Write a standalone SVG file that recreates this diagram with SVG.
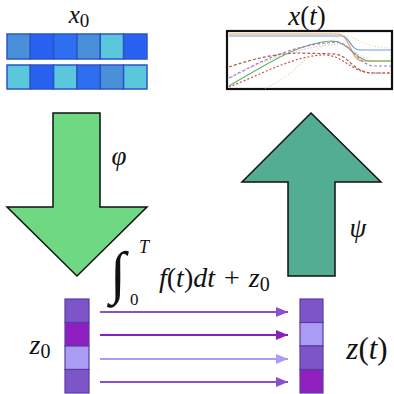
<svg xmlns="http://www.w3.org/2000/svg" width="394" height="394" viewBox="0 0 394 394">
<defs>
<style>
.m{font-style:italic;fill:#111}
.r{font-style:normal;fill:#111}
.xc{stroke:#2a55c8;stroke-width:1.5}
.zc{stroke:#5b3d9e;stroke-width:1.2}
.big{stroke:#111;stroke-width:1.5;stroke-linejoin:miter}
.ar{stroke-width:2;fill:none}
.cv{fill:none;stroke-width:1.2}
</style>
<marker id="h1" viewBox="0 0 12 10" refX="12" refY="5" markerWidth="12" markerHeight="10" markerUnits="userSpaceOnUse" orient="auto"><path d="M0,0 L12,5 L0,10 Z" fill="#8a4fd0"/></marker>
<marker id="h2" viewBox="0 0 12 10" refX="12" refY="5" markerWidth="12" markerHeight="10" markerUnits="userSpaceOnUse" orient="auto"><path d="M0,0 L12,5 L0,10 Z" fill="#8a1ec0"/></marker>
<marker id="h3" viewBox="0 0 12 10" refX="12" refY="5" markerWidth="12" markerHeight="10" markerUnits="userSpaceOnUse" orient="auto"><path d="M0,0 L12,5 L0,10 Z" fill="#a99cf5"/></marker>
</defs>
<rect width="394" height="394" fill="#fff"/>

<g id="x0" font-family="Liberation Serif, Times New Roman, serif">
<text class="m" x="79" y="23" font-size="25" text-anchor="middle">x<tspan class="r" font-size="19" dy="4">0</tspan></text>
<rect class="xc" x="7" y="34" width="23.3" height="25" fill="#4a90d9"/>
<rect class="xc" x="30.3" y="34" width="23.3" height="25" fill="#2962f0"/>
<rect class="xc" x="53.6" y="34" width="23.3" height="25" fill="#2d6ff0"/>
<rect class="xc" x="77" y="34" width="23.3" height="25" fill="#4a90d9"/>
<rect class="xc" x="100.3" y="34" width="23.3" height="25" fill="#5bc7dc"/>
<rect class="xc" x="123.6" y="34" width="23.4" height="25" fill="#2962f0"/>
<rect class="xc" x="7" y="65" width="23.3" height="24" fill="#5bc7dc"/>
<rect class="xc" x="30.3" y="65" width="23.3" height="24" fill="#2962f0"/>
<rect class="xc" x="53.6" y="65" width="23.3" height="24" fill="#5bc7dc"/>
<rect class="xc" x="77" y="65" width="23.3" height="24" fill="#2d6ff0"/>
<rect class="xc" x="100.3" y="65" width="23.3" height="24" fill="#4a90d9"/>
<rect class="xc" x="123.6" y="65" width="23.4" height="24" fill="#5bc7dc"/>
</g>

<g id="xt" font-family="Liberation Serif, Times New Roman, serif">
<text class="m" x="307" y="25" font-size="27" text-anchor="middle">x<tspan class="r">(</tspan>t<tspan class="r">)</tspan></text>
<rect x="227" y="31" width="165" height="58" fill="#fff" stroke="#111" stroke-width="2.2"/>
<path class="cv" stroke="#f0a050" d="M229,34 L338,34 C350,34 350,60 362,61 L391,61"/>
<path class="cv" stroke="#6a9fd0" d="M229,36 L342,36 C350,36 350,50 360,50 L391,50"/>
<path class="cv" stroke="#5cb85c" d="M229,86 C265,65 300,42 332,41 C348,41 355,60 370,61 L391,61"/>
<path class="cv" stroke="#9a7ad0" stroke-dasharray="3,2" d="M229,78 C260,62 290,45 336,42 C350,42 356,62 372,66 L391,66"/>
<path class="cv" stroke="#a05a4a" stroke-dasharray="3,2" d="M229,67 C255,58 280,53 300,53 L335,54 C350,56 352,72 372,73 L391,73"/>
<path class="cv" stroke="#d05050" stroke-dasharray="2,2" d="M229,87 C260,75 295,55 325,55 C345,56 350,72 372,73 L391,73"/>
<path class="cv" stroke="#e0a0c0" stroke-dasharray="1,2" d="M232,77 C260,62 300,46 340,44 C352,45 356,58 370,58"/>
<path class="cv" stroke="#f0d0a0" stroke-dasharray="1,2" d="M265,88 C290,80 315,45 340,36 C355,33 360,48 391,48"/>
</g>

<g id="phi" font-family="Liberation Serif, Times New Roman, serif">
<polygon class="big" fill="#6ed882" points="53,113 100,113 100,207 147,207 77,276 7,207 53,207"/>
<text class="m" x="119" y="165" font-size="27" text-anchor="middle">φ</text>
</g>

<g id="psi" font-family="Liberation Serif, Times New Roman, serif">
<polygon class="big" fill="#52ad93" points="311,113 381,182 335,182 335,276 288,276 288,182 242,182"/>
<text class="m" x="358" y="237" font-size="27" text-anchor="middle">ψ</text>
</g>

<g id="integral" font-family="Liberation Serif, Times New Roman, serif">
<text class="r" x="110" y="292" font-size="58">∫</text>
<text class="m" x="139" y="253" font-size="18">T</text>
<text class="r" x="130" y="305" font-size="17">0</text>
<text class="m" x="159" y="287" font-size="28">f<tspan class="r">(</tspan>t<tspan class="r">)</tspan>dt <tspan class="r" dx="2">+</tspan> <tspan dx="2">z</tspan><tspan class="r" font-size="20" dy="4">0</tspan></text>
</g>

<g id="z0" font-family="Liberation Serif, Times New Roman, serif">
<text class="m" x="40" y="354" font-size="28" text-anchor="middle">z<tspan class="r" font-size="20" dy="4">0</tspan></text>
<rect class="zc" x="65" y="299" width="24" height="23.5" fill="#7e55c8"/>
<rect class="zc" x="65" y="322.5" width="24" height="23.5" fill="#8e1ec0"/>
<rect class="zc" x="65" y="346" width="24" height="23.5" fill="#a99cf5"/>
<rect class="zc" x="65" y="369.5" width="24" height="23.5" fill="#7e55c8"/>
</g>

<g id="zt" font-family="Liberation Serif, Times New Roman, serif">
<text class="m" x="367" y="359" font-size="31" text-anchor="middle">z<tspan class="r">(</tspan>t<tspan class="r">)</tspan></text>
<rect class="zc" x="300" y="299" width="23" height="23.5" fill="#7e55c8"/>
<rect class="zc" x="300" y="322.5" width="23" height="23.5" fill="#a99cf5"/>
<rect class="zc" x="300" y="346" width="23" height="23.5" fill="#7e55c8"/>
<rect class="zc" x="300" y="369.5" width="23" height="23.5" fill="#9020c0"/>
</g>

<g id="connectors">
<line class="ar" x1="100" y1="312" x2="288" y2="312" stroke="#8a4fd0" marker-end="url(#h1)"/>
<line class="ar" x1="100" y1="335" x2="288" y2="335" stroke="#8a1ec0" marker-end="url(#h2)"/>
<line class="ar" x1="100" y1="359" x2="288" y2="359" stroke="#a99cf5" marker-end="url(#h3)"/>
<line class="ar" x1="100" y1="382" x2="288" y2="382" stroke="#8a4fd0" marker-end="url(#h1)"/>
</g>
</svg>
